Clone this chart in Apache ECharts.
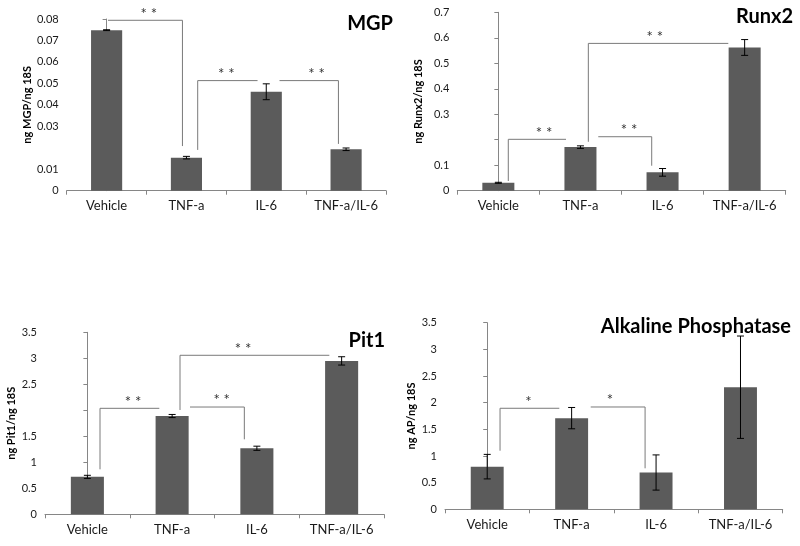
<!DOCTYPE html>
<html><head><meta charset="utf-8">
<script src="https://cdn.jsdelivr.net/npm/echarts@6/dist/echarts.min.js"></script>
<style>html,body{margin:0;padding:0;background:#fff}#c{width:800px;height:546px}</style>
</head><body><div id="c"></div>
<script>
// ---- data ----
const categories = ['Vehicle', 'TNF-a', 'IL-6', 'TNF-a/IL-6'];

const mgpTitle = 'MGP';
const mgpYName = 'ng MGP/ng 18S';
const mgpValues = [0.0748, 0.0154, 0.0461, 0.0193];
const mgpErrors = [0.0002, 0.0006, 0.0037, 0.0006];
const mgpAxis = { max: 0.08, interval: 0.01, hidden: [0.02] };
const mgpBrackets = [
  { pts: [[0.017, 0.0794], [0.95, 0.0794], [0.95, 0.0208]], label: '**', lx: 0.53 },
  { pts: [[1.141, 0.0190], [1.141, 0.0513], [1.891, 0.0513]], label: '**', lx: 1.50 },
  { pts: [[2.166, 0.0513], [2.904, 0.0513], [2.904, 0.0218]], label: '**', lx: 2.63 }
];

const runxTitle = 'Runx2';
const runxYName = 'ng Runx2/ng 18S';
const runxValues = [0.031, 0.171, 0.072, 0.562];
const runxErrors = [0.002, 0.005, 0.015, 0.031];
const runxAxis = { max: 0.7, interval: 0.1, hidden: [0.2] };
const runxBrackets = [
  { pts: [[0.121, 0.038], [0.121, 0.2016], [0.824, 0.2016]], label: '**', lx: 0.556 },
  { pts: [[1.217, 0.2118], [1.868, 0.2118], [1.868, 0.098]], label: '**', lx: 1.591 },
  { pts: [[1.096, 0.192], [1.096, 0.578], [2.801, 0.578]], label: '**', lx: 1.907 }
];

const pitTitle = 'Pit1';
const pitYName = 'ng Pit1/ng 18S';
const pitValues = [0.72, 1.89, 1.27, 2.95];
const pitErrors = [0.03, 0.03, 0.04, 0.08];
const pitAxis = { max: 3.5, interval: 0.5, hidden: [2] };
const pitBrackets = [
  { pts: [[0.149, 0.865], [0.149, 2.038], [0.849, 2.038]], label: '**', lx: 0.538 },
  { pts: [[1.211, 2.063], [1.852, 2.063], [1.852, 1.442]], label: '**', lx: 1.585 },
  { pts: [[1.093, 2.006], [1.093, 3.058], [2.855, 3.058]], label: '**', lx: 1.836 }
];

const apTitle = 'Alkaline Phosphatase';
const apYName = 'ng AP/ng 18S';
const apValues = [0.80, 1.71, 0.69, 2.29];
const apErrors = [0.23, 0.20, 0.33, 0.96];
const apAxis = { max: 3.5, interval: 0.5, hidden: [] };
const apBrackets = [
  { pts: [[0.152, 1.099], [0.152, 1.895], [0.854, 1.895]], label: '*', lx: 0.487 },
  { pts: [[1.226, 1.919], [1.870, 1.919], [1.870, 0.769]], label: '*', lx: 1.455 }
];

// ---- layout / style ----
const FONT = 'Lato';
const panels = [
  { title: mgpTitle, yName: mgpYName, values: mgpValues, errors: mgpErrors, axis: mgpAxis, brackets: mgpBrackets,
    grid: { left: 66.7, right: 414, top: 19, bottom: 355.3 }, nameGap: 33, titlePos: { right: 402, top: 9 } },
  { title: runxTitle, yName: runxYName, values: runxValues, errors: runxErrors, axis: runxAxis, brackets: runxBrackets,
    grid: { left: 457.3, right: 14.3, top: 12.3, bottom: 355.3 }, nameGap: 33, titlePos: { right: 2, top: 2 } },
  { title: pitTitle, yName: pitYName, values: pitValues, errors: pitErrors, axis: pitAxis, brackets: pitBrackets,
    grid: { left: 45, right: 416, top: 332.3, bottom: 31.7 }, nameGap: 28, titlePos: { right: 410, top: 326 } },
  { title: apTitle, yName: apYName, values: apValues, errors: apErrors, axis: apAxis, brackets: apBrackets,
    grid: { left: 445, right: 17.3, top: 322.7, bottom: 36.7 }, nameGap: 28, titlePos: { right: 4, top: 312 } }
];

const BAR = '#5b5b5b', AXIS = '#868686', TEXT = '#1a1a1a', BRACKET = '#7a7a7a';

const option = { animation: false, title: [], grid: [], xAxis: [], yAxis: [], series: [] };
const n = panels.length;

panels.forEach((p, k) => {
  option.title.push({ text: p.title, right: p.titlePos.right, top: p.titlePos.top,
    textStyle: { fontFamily: FONT, fontWeight: 'bold', fontSize: 20, color: '#000' } });
  option.grid.push(p.grid);
  option.xAxis.push({ type: 'category', gridIndex: k, data: categories,
    axisLine: { lineStyle: { color: AXIS } },
    axisTick: { show: true, length: 4, lineStyle: { color: AXIS } },
    axisLabel: { fontFamily: FONT, fontSize: 13, color: TEXT, margin: 9, interval: 0 } });
  const hidden = p.axis.hidden;
  option.yAxis.push({ type: 'value', gridIndex: k, min: 0, max: p.axis.max, interval: p.axis.interval,
    name: p.yName, nameLocation: 'middle', nameGap: p.nameGap, nameRotate: 90,
    nameTextStyle: { fontFamily: FONT, fontSize: 11, fontWeight: 'bold', color: '#000' },
    axisLine: { show: true, lineStyle: { color: AXIS } },
    axisTick: { show: true, length: 4, lineStyle: { color: AXIS } },
    splitLine: { show: false },
    axisLabel: { fontFamily: FONT, fontSize: 11, color: TEXT, margin: 8,
      formatter: v => { const r = +(+v).toFixed(4); return hidden.some(h => Math.abs(h - r) < 1e-9) ? '' : String(r); } } });
  option.series.push({ type: 'bar', xAxisIndex: k, yAxisIndex: k, data: p.values, barWidth: '39%',
    itemStyle: { color: BAR } });
  option.series.push({ type: 'custom', xAxisIndex: k, yAxisIndex: k,
    data: p.values.map((v, i) => [i, v, p.errors[i]]), z: 5,
    renderItem: (params, api) => {
      const i = api.value(0), v = api.value(1), e = api.value(2);
      const hi = api.coord([i, v + e]), lo = api.coord([i, v - e]);
      const c = 3.5;
      const st = { stroke: '#000', lineWidth: 1 };
      return { type: 'group', children: [
        { type: 'line', shape: { x1: hi[0], y1: hi[1], x2: lo[0], y2: lo[1] }, style: st },
        { type: 'line', shape: { x1: hi[0] - c, y1: hi[1], x2: hi[0] + c, y2: hi[1] }, style: st },
        { type: 'line', shape: { x1: lo[0] - c, y1: lo[1], x2: lo[0] + c, y2: lo[1] }, style: st }
      ] };
    } });
});

// hidden value x-axes for annotation brackets
panels.forEach((p, k) => {
  option.xAxis.push({ type: 'value', gridIndex: k, min: -0.5, max: 3.5, show: false });
  option.series.push({ type: 'custom', xAxisIndex: n + k, yAxisIndex: k, z: 6,
    data: p.brackets.map((b, j) => [j]),
    renderItem: (params, api) => {
      const b = p.brackets[api.value(0)];
      const pts = b.pts.map(q => api.coord(q));
      const hy = (b.pts[0][1] === b.pts[1][1]) ? b.pts[0][1] : b.pts[1][1];
      const lp = api.coord([b.lx, hy]);
      return { type: 'group', children: [
        { type: 'polyline', shape: { points: pts }, style: { stroke: BRACKET, lineWidth: 1, fill: null } },
        { type: 'text', x: lp[0], y: lp[1] + 1,
          style: { text: b.label.split('').join(' '), fontFamily: FONT, fontSize: 15, fill: '#333', align: 'center', verticalAlign: 'bottom' } }
      ] };
    } });
});

const chart = echarts.init(document.getElementById('c'), null, { renderer: 'canvas' });
chart.setOption(option);
</script>
</body></html>
